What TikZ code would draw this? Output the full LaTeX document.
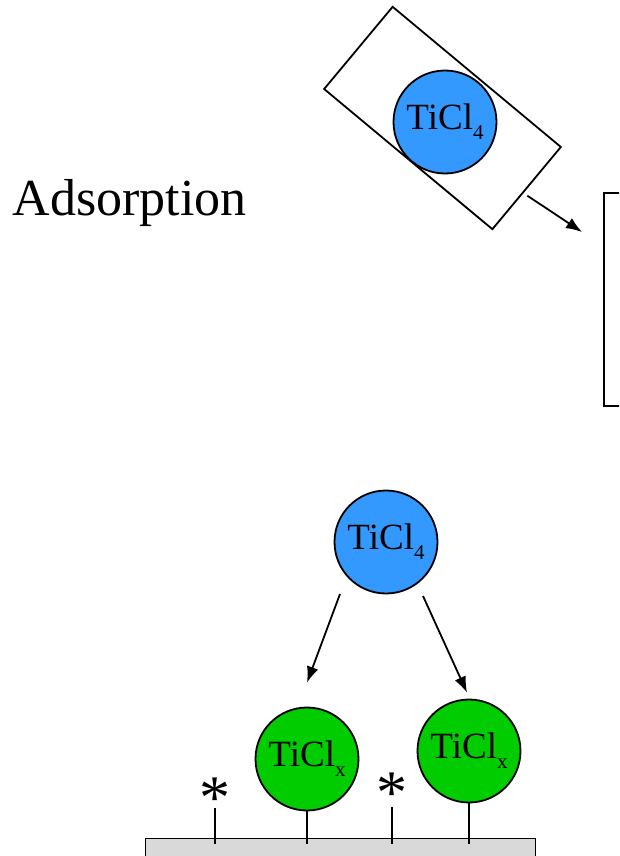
\documentclass[tikz,border=0pt]{standalone}
\usepackage{fontspec}
\setmainfont{Liberation Serif}
\usetikzlibrary{arrows.meta}
\definecolor{gasblue}{HTML}{3399FF}
\definecolor{sitegreen}{HTML}{00CC00}
\definecolor{surfgray}{HTML}{D9D9D9}
\newcommand{\ticl}[1]{TiCl\raisebox{-10pt}{\fontsize{21}{21}\selectfont #1}}

\begin{document}
\begin{tikzpicture}[x=1pt,y=-1pt,line width=1.8pt,>={Latex[length=16pt,width=12pt]},
	molecule/.style={circle,draw,minimum size=103pt,inner sep=0pt,font=\fontsize{37}{40}\selectfont},
	site/.style={inner sep=0pt,anchor=base,font=\fontsize{62}{62}\selectfont}]
	\path[use as bounding box,clip] (0,0) rectangle (619,856);
%	\draw [help lines] (0,0) grid (619,856);
	\node [anchor=base west,inner sep=0pt,font=\fontsize{52}{60}\selectfont] (title) at (12,215) {Adsorption};
	\node [draw,rotate=-39.8,minimum width=219pt,minimum height=107pt] (pulse) at (442.5,118) {};
	\node [molecule,fill=gasblue] (dose) at (445,122) {\ticl{4}};
	\node [draw,anchor=north west,minimum width=40pt,minimum height=213pt] (reactor) at (603,192) {};
	\coordinate (inlet) at (582,232);
	\draw [->] ([yshift=-7pt]pulse.east) -- (inlet);
	% surface with sites
	\node [draw,fill=surfgray,line width=1.3pt,anchor=north west,minimum width=390pt,minimum height=40pt] (surf) at (145,838) {};
	\coordinate (floor) at (0,844);
	\node [molecule,fill=gasblue] (gas) at (386,542) {\ticl{4}};
	\node [molecule,fill=sitegreen] (left) at (307,759) {\ticl{x}};
	\node [molecule,fill=sitegreen] (right) at (469,751) {\ticl{x}};
	\node [site] (star1) at (215,818) {*};
	\node [site] (star2) at (392,813) {*};
	\draw (left.south) -- (left |- floor);
	\draw (right.south) -- (right |- floor);
	\draw (star1 |- floor) -- ++(0,-36);
	\draw (star2 |- floor) -- ++(0,-37);
	\draw [->] ([xshift=-46pt,yshift=-52pt]gas.center) -- ([yshift=24pt]left.north);
	\draw [->] ([xshift=37pt,yshift=-54pt]gas.center) -- ([xshift=-2pt,yshift=6pt]right.north);
\end{tikzpicture}
\end{document}
